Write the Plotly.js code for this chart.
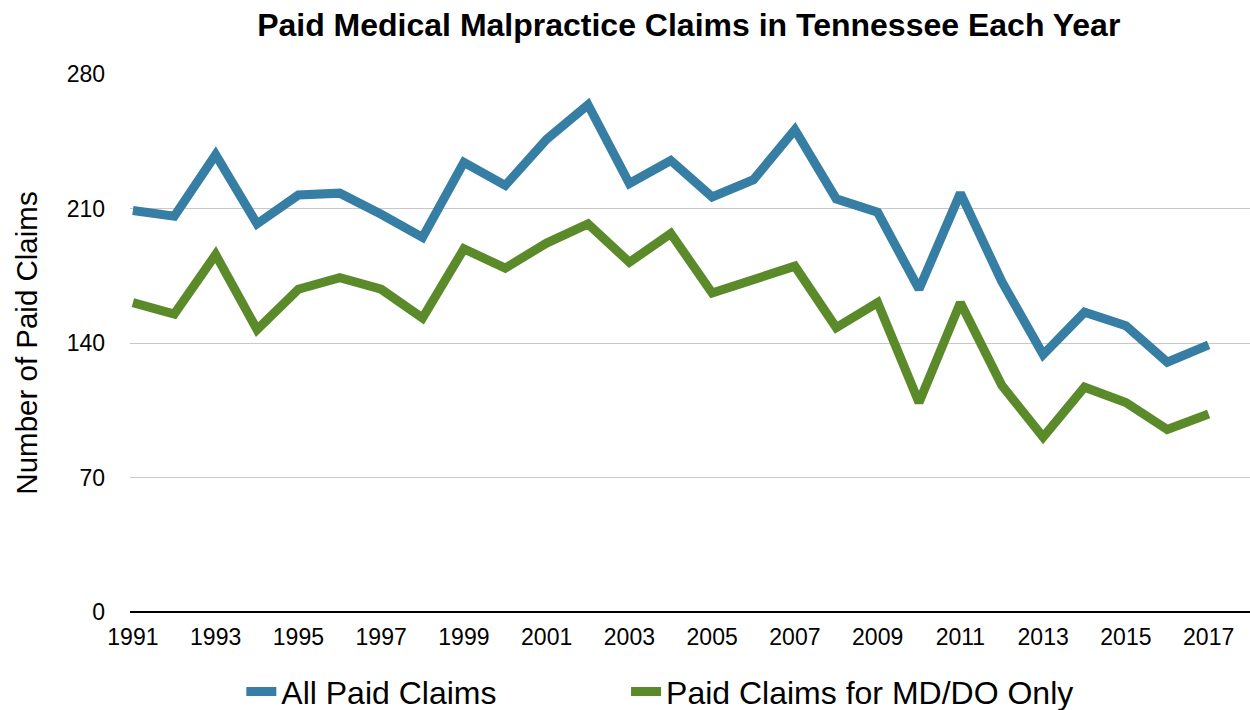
<!DOCTYPE html>
<html>
<head>
<meta charset="utf-8">
<script src="https://cdn.plot.ly/plotly-3.0.1.min.js"></script>
<style>
html,body{margin:0;padding:0;background:#fff;}
#chart{width:1250px;height:710px;}
</style>
</head>
<body>
<div id="chart"></div>
<script>
var years = [1991,1992,1993,1994,1995,1996,1997,1998,1999,2000,2001,2002,2003,2004,2005,2006,2007,2008,2009,2010,2011,2012,2013,2014,2015,2016,2017];
var allPaidClaims = [209,206,238,202,217,218,207,195,234,222,246,264,223,235,216,225,251,215,208,168,218,172,134,156,149,130,139];
var mdDoClaims = [161,155,186,147,168,174,168,153,189,179,192,202,182,197,166,173,180,148,161,109,161,118,91,117,109,95,103];
var xTicks = [1991,1993,1995,1997,1999,2001,2003,2005,2007,2009,2011,2013,2015,2017];
var yTicks = [0,70,140,210,280];

var FONT = '"Liberation Sans", Arial, Helvetica, sans-serif';

var traces = [
  {x: years, y: allPaidClaims, name: 'All Paid Claims', type: 'scatter', mode: 'lines',
   line: {color: '#367EA3', width: 9}, legend: 'legend'},
  {x: years, y: mdDoClaims, name: 'Paid Claims for MD/DO Only', type: 'scatter', mode: 'lines',
   line: {color: '#5A8A29', width: 9}, legend: 'legend2'}
];

var legendFont = {family: FONT, size: 32, color: '#000'};

var layout = {
  width: 1250, height: 710,
  margin: {l: 130, r: 0, t: 74, b: 98, autoexpand: false},
  paper_bgcolor: '#fff', plot_bgcolor: '#fff',
  font: {family: FONT, color: '#000'},
  title: {text: '<b>Paid Medical Malpractice Claims in Tennessee Each Year</b>',
          font: {family: FONT, size: 32, color: '#000'}, x: 0.551, xanchor: 'center', y: 0.965, yanchor: 'middle'},
  xaxis: {range: [1990.93, 2018.0], tickvals: xTicks, ticktext: xTicks.map(String),
          showgrid: false, zeroline: false, showline: false, ticks: '', ticklabelstandoff: 9,
          tickfont: {family: FONT, size: 23, color: '#000'}},
  yaxis: {range: [0, 280], tickvals: yTicks, showgrid: true, gridcolor: '#c8c8c8', gridwidth: 1,
          zeroline: true, zerolinecolor: '#000', zerolinewidth: 2.5, showline: false, ticks: '',
          ticklabelstandoff: 24,
          tickfont: {family: FONT, size: 23, color: '#000'},
          title: {text: 'Number of Paid Claims', font: {family: FONT, size: 29.5, color: '#000'}, standoff: 20}},
  showlegend: true,
  legend: {orientation: 'h', x: 0.0994, xanchor: 'left', y: -0.097, yanchor: 'top', font: legendFont},
  legend2: {orientation: 'h', x: 0.4429, xanchor: 'left', y: -0.097, yanchor: 'top', font: legendFont}
};

Plotly.newPlot('chart', traces, layout, {displayModeBar: false, staticPlot: true});
</script>
</body>
</html>
